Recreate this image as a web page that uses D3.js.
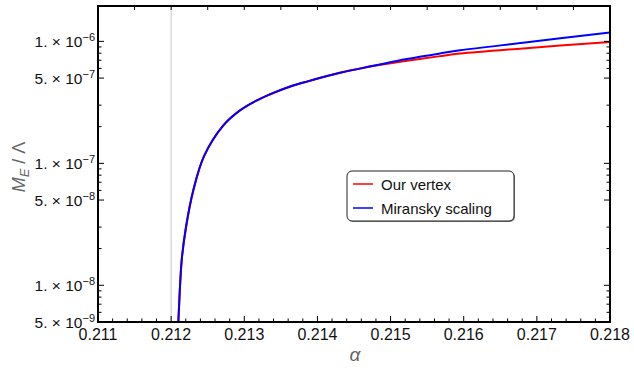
<!DOCTYPE html>
<html>
<head>
<meta charset="utf-8">
<script src="https://cdn.jsdelivr.net/npm/d3@7"></script>
<style>
  body { margin: 0; background: #fff; }
  svg { display: block; font-family: "Liberation Sans", Arial, sans-serif; }
</style>
</head>
<body>
<svg id="chart" width="634" height="368"></svg>
<script>
// values
const alphaVals = [0.21207, 0.212098, 0.212144, 0.212203, 0.212303, 0.212449, 0.212713, 0.212941, 0.21317, 0.213397, 0.213625, 0.213853, 0.214309, 0.214764, 0.215221, 0.215676, 0.215949, 0.216811, 0.218];
const ourVertex = [2.5e-9, 5e-9, 1.58e-8, 2.96e-8, 5.95e-8, 1.14e-7, 2.04e-7, 2.71e-7, 3.27e-7, 3.77e-7, 4.25e-7, 4.67e-7, 5.52e-7, 6.27e-7, 6.93e-7, 7.57e-7, 7.94e-7, 8.76e-7, 9.9e-7];
const miransky = [2.5e-9, 5e-9, 1.61e-8, 3.02e-8, 6.04e-8, 1.147e-7, 2.05e-7, 2.72e-7, 3.28e-7, 3.78e-7, 4.26e-7, 4.68e-7, 5.53e-7, 6.3e-7, 7.16e-7, 7.97e-7, 8.44e-7, 9.75e-7, 1.185e-6];
const xTicks = [0.211, 0.212, 0.213, 0.214, 0.215, 0.216, 0.217, 0.218];
const yTicks = [5e-9, 1e-8, 5e-8, 1e-7, 5e-7, 1e-6];
const yTickLabels = [["5", "9"], ["1", "8"], ["5", "8"], ["1", "7"], ["5", "7"], ["1", "6"]];
const seriesNames = ["Our vertex", "Miransky scaling"];
const seriesColors = ["#ff0000", "#0000ff"];
const alphaC = 0.212;

const svg = d3.select("#chart");
const pL = 98, pR = 610, pT = 6, pB = 322;

const x = d3.scaleLinear().domain([0.211, 0.218]).range([pL, pR]);
const y = d3.scaleLog().domain([5e-9, 1.95e-6]).range([pB, pT]);

svg.append("defs").append("clipPath").attr("id", "clip")
  .append("rect").attr("x", pL).attr("y", pT)
  .attr("width", pR - pL).attr("height", pB - pT);

// critical coupling line
svg.append("line")
  .attr("x1", x(alphaC)).attr("x2", x(alphaC))
  .attr("y1", pT).attr("y2", pB)
  .attr("stroke", "#c8c8c8").attr("stroke-width", 1);

const line = d3.line()
  .x((d, i) => x(alphaVals[i]))
  .y(d => y(d))
  .curve(d3.curveCatmullRom.alpha(0.5));

const plot = svg.append("g").attr("clip-path", "url(#clip)");
[ourVertex, miransky].forEach((s, k) => {
  plot.append("path")
    .attr("d", line(s))
    .attr("fill", "none")
    .attr("stroke", seriesColors[k])
    .attr("stroke-width", 2);
});

// ticks
const ax = svg.append("g").attr("stroke", "#000").attr("stroke-width", 1);
d3.range(0, 36).map(i => 0.211 + i * 0.0002).forEach((v, i) => {
  const len = i % 5 === 0 ? 6 : 3.5;
  ax.append("line").attr("x1", x(v)).attr("x2", x(v)).attr("y1", pB).attr("y2", pB - len);
});
d3.range(0, 15).map(i => 0.211 + i * 0.0005).forEach(v => {
  ax.append("line").attr("x1", x(v)).attr("x2", x(v)).attr("y1", pT).attr("y2", pT + 4);
});
const yMinor = [];
[-9, -8, -7, -6].forEach(e => [2, 3, 6, 7, 8, 9].forEach(m => yMinor.push(m * Math.pow(10, e))));
yMinor.filter(v => v > 5e-9 && v < 1.95e-6).forEach(v => {
  ax.append("line").attr("x1", pL).attr("x2", pL + 3.5).attr("y1", y(v)).attr("y2", y(v));
  ax.append("line").attr("x1", pR).attr("x2", pR - 3.5).attr("y1", y(v)).attr("y2", y(v));
});
yTicks.forEach(v => {
  ax.append("line").attr("x1", pL).attr("x2", pL + 6).attr("y1", y(v)).attr("y2", y(v));
  ax.append("line").attr("x1", pR).attr("x2", pR - 6).attr("y1", y(v)).attr("y2", y(v));
});

// frame
svg.append("rect")
  .attr("x", pL).attr("y", pT)
  .attr("width", pR - pL).attr("height", pB - pT)
  .attr("fill", "none").attr("stroke", "#000").attr("stroke-width", 2);

// tick labels
svg.selectAll(".xl").data(xTicks).enter().append("text")
  .attr("x", d => x(d)).attr("y", 340)
  .attr("text-anchor", "middle").attr("font-size", 16).attr("fill", "#111")
  .text(d => d3.format(".3f")(d));

yTicks.forEach((v, i) => {
  const t = svg.append("text")
    .attr("x", 95).attr("y", y(v) + 5.5)
    .attr("text-anchor", "end").attr("font-size", 15.5).attr("fill", "#111");
  t.append("tspan").text(yTickLabels[i][0] + ". \u00d7 10");
  t.append("tspan").attr("dy", -6).attr("font-size", 11).text("\u2212" + yTickLabels[i][1]);
});

// axis labels
svg.append("text")
  .attr("x", 355).attr("y", 361)
  .attr("text-anchor", "middle").attr("font-size", 19).attr("font-style", "italic")
  .attr("fill", "#666").text("\u03b1");

const yl = svg.append("text")
  .attr("transform", "translate(25,167) rotate(-90)")
  .attr("text-anchor", "middle").attr("font-size", 18).attr("fill", "#666");
yl.append("tspan").attr("font-style", "italic").text("M");
yl.append("tspan").attr("font-style", "italic").attr("font-size", 13).attr("dy", 4).text("E");
yl.append("tspan").attr("dy", -4).text(" / \u039b");

// legend
const lg = svg.append("g");
lg.append("rect")
  .attr("x", 348).attr("y", 172).attr("width", 167).attr("height", 50)
  .attr("rx", 5).attr("fill", "#888");
lg.append("rect")
  .attr("x", 347).attr("y", 171).attr("width", 167).attr("height", 50)
  .attr("rx", 5).attr("fill", "#fff").attr("stroke", "#222").attr("stroke-width", 1);
seriesNames.forEach((n, i) => {
  const yy = 184 + i * 24;
  lg.append("line").attr("x1", 353).attr("x2", 373).attr("y1", yy).attr("y2", yy)
    .attr("stroke", seriesColors[i]).attr("stroke-width", 1.5);
  lg.append("text").attr("x", 381).attr("y", yy + 5.5)
    .attr("font-size", 15).attr("fill", "#111").text(n);
});
</script>
</body>
</html>
